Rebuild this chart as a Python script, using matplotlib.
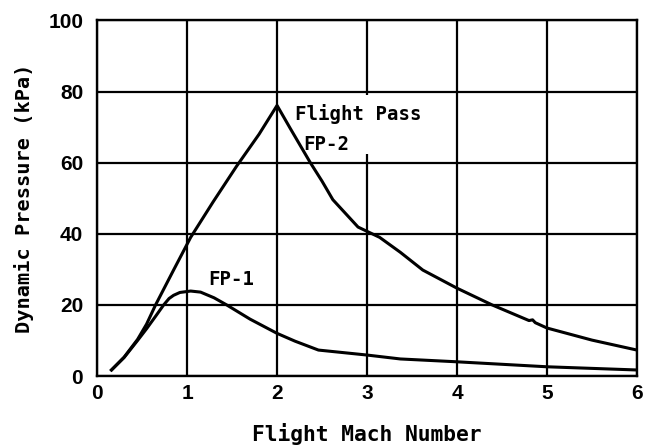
import matplotlib
matplotlib.use("Agg")
import matplotlib.pyplot as plt
from matplotlib.patches import Rectangle

# Data
fp2_mach = [0.16, 0.30, 0.45, 0.55, 0.65, 0.85, 1.04, 1.29, 1.55, 1.80, 2.00,
            2.15, 2.37, 2.50, 2.62, 2.90, 3.14, 3.37, 3.62, 4.00, 4.39, 4.80,
            4.84, 4.87, 5.00, 5.50, 6.00]
fp2_q = [1.7, 5.3, 10.3, 14.6, 20.0, 29.8, 39.0, 49.0, 59.0, 68.0, 76.1,
         69.5, 60.0, 54.8, 49.6, 41.9, 39.0, 34.8, 29.8, 24.7, 20.0, 15.6,
         15.8, 15.0, 13.5, 10.1, 7.3]

fp1_mach = [0.16, 0.30, 0.45, 0.55, 0.65, 0.74, 0.80, 0.85, 0.92, 1.04, 1.15,
            1.30, 1.44, 1.70, 2.00, 2.20, 2.46, 3.00, 3.37, 4.00, 5.00, 6.00]
fp1_q = [1.7, 5.2, 10.0, 13.3, 16.8, 20.0, 21.8, 22.7, 23.5, 23.9, 23.6,
         22.0, 20.0, 16.0, 12.0, 9.8, 7.3, 5.9, 4.8, 4.0, 2.6, 1.7]

x_ticks = [0, 1, 2, 3, 4, 5, 6]
y_ticks = [0, 20, 40, 60, 80, 100]

fig = plt.figure(figsize=(6.56, 4.45), dpi=100)
ax = fig.add_axes([0.148, 0.155, 0.823, 0.799])

ax.set_xlim(0, 6)
ax.set_ylim(0, 100)
ax.set_xticks(x_ticks)
ax.set_yticks(y_ticks)
tick_font = dict(fontfamily="Liberation Sans", fontsize=15, fontweight="bold")
ax.set_xticklabels([str(v) for v in x_ticks], **tick_font)
ax.set_yticklabels([str(v) for v in y_ticks], **tick_font)
ax.tick_params(length=0, pad=6)
ax.tick_params(axis="y", pad=10)

for s in ax.spines.values():
    s.set_linewidth(1.7)
    s.set_color("black")

ax.grid(True, color="black", linewidth=1.6)
ax.set_axisbelow(True)

# white area behind the FP-2 label (interrupts the grid line at Mach 3)
ax.add_patch(Rectangle((2.2, 62.5), 1.4, 16.6, facecolor="white",
                       edgecolor="none", zorder=1.5))

ax.plot(fp2_mach, fp2_q, color="black", linewidth=2.2, zorder=3)
ax.plot(fp1_mach, fp1_q, color="black", linewidth=2.2, zorder=3)

lab_font = dict(family="DejaVu Sans Mono", fontsize=13.7, color="black",
                fontweight="bold")
ax.text(2.2, 73.6, "Flight Pass", ha="left", va="center", zorder=4, **lab_font)
ax.text(2.29, 65.2, "FP-2", ha="left", va="center", zorder=4, **lab_font)
ax.text(1.24, 27.2, "FP-1", ha="left", va="center", zorder=4, **lab_font)

ax.set_xlabel("Flight Mach Number", fontfamily="DejaVu Sans Mono", fontsize=15.3,
              fontweight="bold", labelpad=14)
ax.set_ylabel("Dynamic Pressure (kPa)", fontfamily="DejaVu Sans Mono", fontsize=14.6,
              fontweight="bold", labelpad=10)

fig.savefig("out.png", dpi=100)
